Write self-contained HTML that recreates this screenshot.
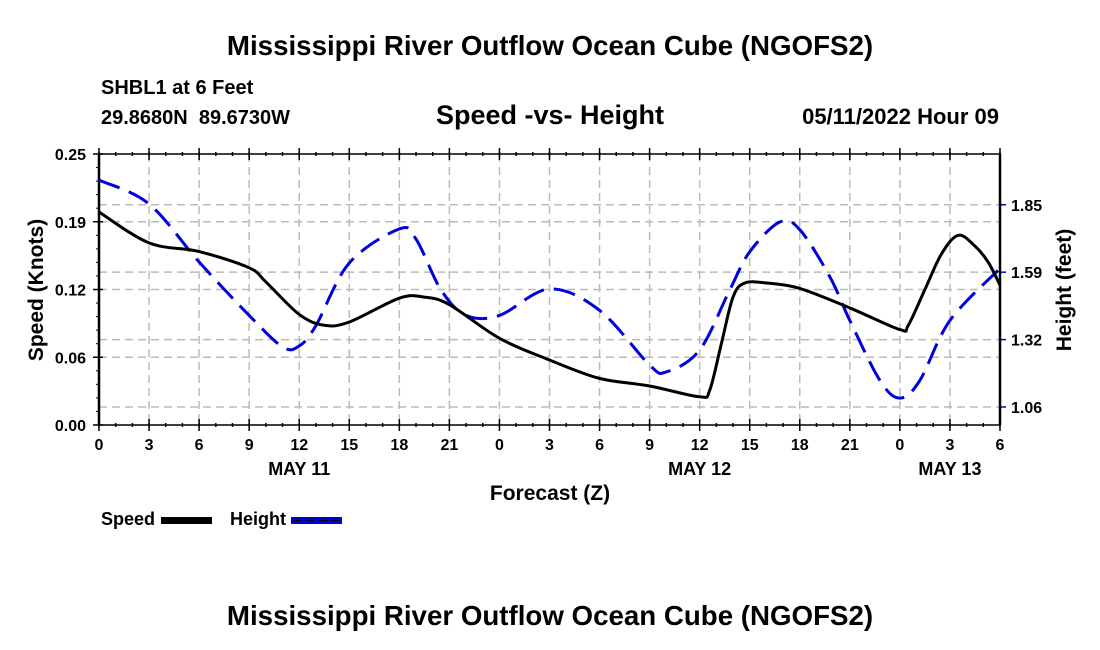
<!DOCTYPE html>
<html><head><meta charset="utf-8"><style>
body{margin:0;background:#fff;}
svg{display:block;font-family:"Liberation Sans",sans-serif;font-weight:bold;}
</style></head><body>
<svg id="c" width="1100" height="650">
<text x="550" y="55" text-anchor="middle" font-size="27.7">Mississippi River Outflow Ocean Cube (NGOFS2)</text>
<text x="101" y="94" font-size="20">SHBL1 at 6 Feet</text>
<text x="101" y="124" font-size="20" xml:space="preserve">29.8680N  89.6730W</text>
<text x="550" y="124" text-anchor="middle" font-size="27">Speed -vs- Height</text>
<text x="999" y="124" text-anchor="end" font-size="22">05/11/2022 Hour 09</text>
<g id="grid"></g>
<g id="axes"></g>
<g id="series"></g>
<text x="550" y="500" text-anchor="middle" font-size="21">Forecast (Z)</text>
<text transform="translate(43,290) rotate(-90)" text-anchor="middle" font-size="21">Speed (Knots)</text>
<text transform="translate(1071,290) rotate(-90)" text-anchor="middle" font-size="21">Height (feet)</text>
<g>
<text x="101" y="525" font-size="18">Speed</text>
<rect x="161" y="517" width="51" height="7" fill="#000"/>
<text x="230" y="525" font-size="18">Height</text>
<rect x="291" y="517" width="51" height="7" fill="#0000dd"/>
<line x1="293" y1="520.5" x2="340" y2="520.5" stroke="#000" stroke-width="1" stroke-dasharray="8,5"/>
</g>
<text x="550" y="625" text-anchor="middle" font-size="27.7">Mississippi River Outflow Ocean Cube (NGOFS2)</text>
</svg>
<script>
const speedHours=[0,3,6,9,10,12,13.5,15,18,19.5,21,24,27,30,33,36,36.6,37.3,38,38.7,40,42,45,48,48.5,49.5,50.5,51.5,52.5,53.3,54];
const speedVals=[0.1965,0.168,0.160,0.145,0.132,0.102,0.092,0.095,0.117,0.118,0.111,0.080,0.060,0.043,0.036,0.026,0.032,0.075,0.118,0.131,0.131,0.126,0.108,0.088,0.092,0.125,0.158,0.175,0.165,0.150,0.129];
const heightHours=[0,3,6,9,11,12,13,15,18,19,20.5,22,24,27,30,33,34,36,37.8,39,40.8,42,43.8,45,46.8,48,49.2,51,54];
const heightVals=[1.952,1.858,1.63,1.42,1.296,1.30,1.38,1.626,1.76,1.72,1.52,1.42,1.42,1.524,1.44,1.225,1.198,1.284,1.52,1.67,1.787,1.757,1.572,1.40,1.165,1.095,1.165,1.40,1.605];
const xTicks=[0,3,6,9,12,15,18,21,24,27,30,33,36,39,42,45,48,51,54];
const xTickLabels=["0","3","6","9","12","15","18","21","0","3","6","9","12","15","18","21","0","3","6"];
const dayLabels=["MAY 11","MAY 12","MAY 13"];
const dayHours=[12,36,51];
const speedTicks=[0,0.0625,0.125,0.1875,0.25];
const speedTickLabels=["0.00","0.06","0.12","0.19","0.25"];
const heightTicks=[1.06,1.325,1.59,1.855];
const heightTickLabels=["1.06","1.32","1.59","1.85"];
const L=99,R=1000,T=154,B=425;
const X=h=>L+h/54*(R-L);
const YS=s=>B-s/0.25*(B-T);
const YH=v=>407-(v-1.06)*254.4;
const NS="http://www.w3.org/2000/svg";
function mk(tag,attrs,parent){const e=document.createElementNS(NS,tag);for(const k in attrs)e.setAttribute(k,attrs[k]);parent.appendChild(e);return e;}
const grid=document.getElementById('grid'),axes=document.getElementById('axes'),series=document.getElementById('series');
xTicks.forEach((h,i)=>{
 if(i>0&&i<xTicks.length-1){const g=mk('line',{x1:X(h),x2:X(h),y1:T,y2:B,stroke:'#bbb','stroke-width':1.5,'stroke-dasharray':'8,5'},grid);
 
 }
 const t=mk('text',{x:X(h),y:B+25,'text-anchor':'middle','font-size':16},axes);t.textContent=xTickLabels[i];
 
 
 mk('line',{x1:X(h),x2:X(h),y1:B-6,y2:B+6,stroke:'#000','stroke-width':1.5},axes);
 mk('line',{x1:X(h),x2:X(h),y1:T-6,y2:T+6,stroke:'#000','stroke-width':1.5},axes);
});
for(let h=0;h<=54;h++){mk('line',{x1:X(h),x2:X(h),y1:B-2,y2:B+2,stroke:'#000','stroke-width':1.5},axes);mk('line',{x1:X(h),x2:X(h),y1:T-2,y2:T+2,stroke:'#000','stroke-width':1.5},axes);}
dayLabels.forEach((d,i)=>{const t=mk('text',{x:X(dayHours[i]),y:B+50,'text-anchor':'middle','font-size':18},axes);t.textContent=d;
 
 });
speedTicks.forEach((s,i)=>{
 if(i>0&&i<speedTicks.length-1){const g=mk('line',{x1:L,x2:R,y1:YS(s),y2:YS(s),stroke:'#bbb','stroke-width':1.5,'stroke-dasharray':'8,5'},grid);
 
 }
 mk('line',{x1:L-6,x2:L+4,y1:YS(s),y2:YS(s),stroke:'#000','stroke-width':1.5},axes);
 const t=mk('text',{x:L-13,y:YS(s)+6,'text-anchor':'end','font-size':16},axes);t.textContent=speedTickLabels[i];
 
 
});
for(let s=0;s<=0.25;s+=0.0125)mk('line',{x1:L-3,x2:L,y1:YS(s),y2:YS(s),stroke:'#000','stroke-width':1},axes);
heightTicks.forEach((v,i)=>{
 const g=mk('line',{x1:L,x2:R,y1:YH(v),y2:YH(v),stroke:'#bbb','stroke-width':1.5,'stroke-dasharray':'8,5'},grid);
 
 
 mk('line',{x1:R,x2:R+6,y1:YH(v),y2:YH(v),stroke:'#0000dd','stroke-width':1.5},axes);
 const t=mk('text',{x:R+11,y:YH(v)+6,'font-size':16},axes);t.textContent=heightTickLabels[i];
 
 
});
mk('line',{x1:L,x2:R,y1:T,y2:T,stroke:'#000','stroke-width':1.5},axes);
mk('line',{x1:L,x2:R,y1:B,y2:B,stroke:'#000','stroke-width':1.5},axes);
mk('line',{x1:L,x2:L,y1:T,y2:B,stroke:'#000','stroke-width':2.5},axes);
mk('line',{x1:R,x2:R,y1:T,y2:B,stroke:'#000','stroke-width':2.5},axes);
function path(xs,ys){const p=xs.map((x,i)=>[x,ys[i]]);let d='M'+p[0][0]+','+p[0][1];
 for(let i=0;i<p.length-1;i++){const p0=p[i-1]||p[i],p1=p[i],p2=p[i+1],p3=p[i+2]||p2;
 d+=' C'+(p1[0]+(p2[0]-p0[0])/6)+','+(p1[1]+(p2[1]-p0[1])/6)+' '+(p2[0]-(p3[0]-p1[0])/6)+','+(p2[1]-(p3[1]-p1[1])/6)+' '+p2[0]+','+p2[1];}return d;}
const hp=mk('path',{d:path(heightHours.map(X),heightVals.map(YH)),fill:'none',stroke:'#0000dd','stroke-width':3,'stroke-dasharray':'22,10'},series);


const sp=mk('path',{d:path(speedHours.map(X),speedVals.map(YS)),fill:'none',stroke:'#000','stroke-width':3},series);


</script>
</body></html>
